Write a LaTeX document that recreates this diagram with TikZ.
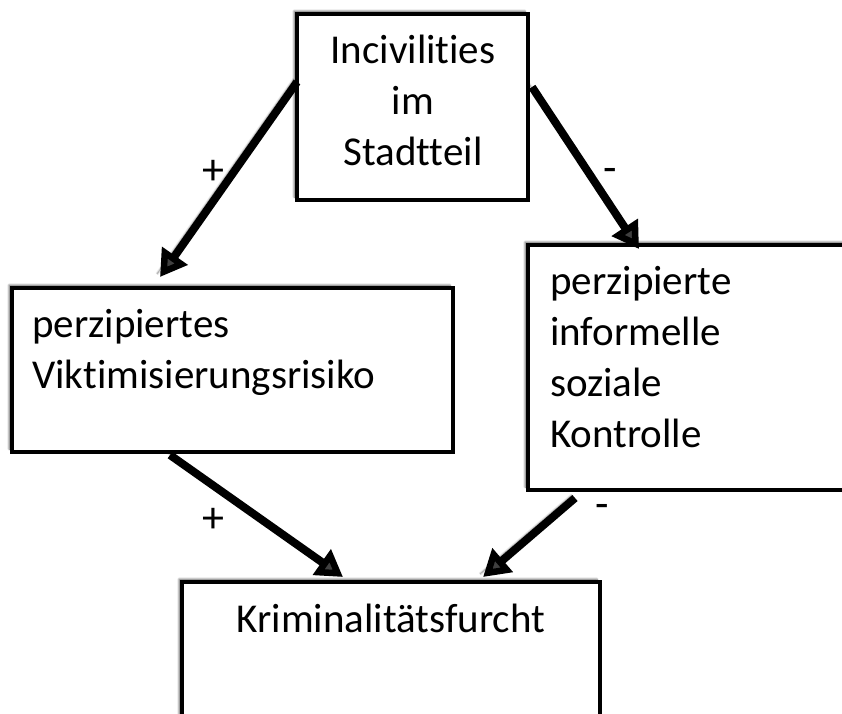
\documentclass[tikz,border=0pt]{standalone}
\usepackage{fontspec}
\setmainfont{Carlito}[Ligatures=NoCommon]
\usetikzlibrary{arrows.meta,shadows.blur}

\begin{document}
\begin{tikzpicture}[x=1pt, y=-1pt,
  box/.style={draw=black, line width=4pt, fill=white, outer sep=0pt,
              inner sep=0pt, anchor=north west,
              blur shadow={shadow xshift=-3pt, shadow yshift=3pt,
                           shadow blur steps=6, shadow opacity=60}},
  txt/.style={inner sep=0pt, font=\fontsize{41}{51}\selectfont},
  sign/.style={inner sep=0pt, font=\fontsize{44}{51}\selectfont},
  effect/.style={line width=8pt, -{Triangle[length=26pt, width=30pt]},
                 blur shadow={shadow xshift=-3pt, shadow yshift=3pt,
                              shadow blur steps=6, shadow opacity=50}}
]
  \useasboundingbox (0,0) rectangle (842,713);

  %% Boxes
  \node[box, minimum width=231pt, minimum height=186pt] (incivil) at (297,14) {};
  \node[box, minimum width=441pt, minimum height=164pt] (risk)    at (12,288)  {};
  \node[box, minimum width=318pt, minimum height=245pt] (control) at (528,245) {};
  \node[box, minimum width=418pt, minimum height=140pt] (fear)    at (182,582) {};

  %% Texts (base = last line)
  \node[txt, align=center, anchor=base] (incivilText) at (413,165)
    {Incivilities\\im\\Stadtteil};
  \node[txt, align=left, anchor=base west] (riskText) at (32,388)
    {perzipiertes\\Viktimisierungsrisiko};
  \node[txt, align=left, anchor=base west] (controlText) at (550,447)
    {perzipierte\\informelle\\soziale\\Kontrolle};
  \node[txt, anchor=base] (fearText) at (391,632) {Kriminalitätsfurcht};

  %% Effects
  \draw[effect] ([yshift=-68pt]incivil.north west)
    -- ([xshift=148pt, yshift=11pt]risk.north west);
  \draw[effect] ([xshift=4pt, yshift=-73pt]incivil.north east)
    -- ([xshift=111pt, yshift=-4pt]control.north west);
  \draw[effect] ([xshift=158pt, yshift=-3pt]risk.south west)
    -- ([xshift=161pt, yshift=5pt]fear.north west);
  \draw[effect] ([xshift=47pt, yshift=-8pt]control.south west)
    -- ([xshift=301pt, yshift=5pt]fear.north west);

  %% Signs
  \node[sign] (plusA)  at (213,172) {+};
  \node[sign] (minusA) at (610,175) {-};
  \node[sign] (plusB)  at (213,520) {+};
  \node[sign] (minusB) at (602,511) {-};
\end{tikzpicture}
\end{document}
